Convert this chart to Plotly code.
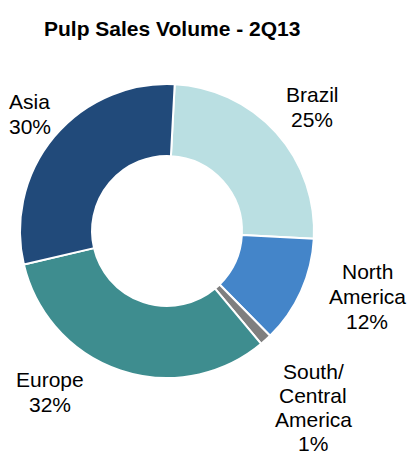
import plotly.graph_objects as go

# ---- data ----
regions = ["Brazil", "North America", "South/Central America", "Europe", "Asia"]
label_lines = [["Brazil"], ["North", "America"], ["South/", "Central", "America"], ["Europe"], ["Asia"]]
share_values = [25.0, 11.8, 1.3, 32.4, 29.5]
share_text = ["25%", "12%", "1%", "32%", "30%"]
colors = ["#badfe2", "#4485c9", "#7f7f7f", "#3e8d8f", "#214a7a"]

W, H = 410, 455
FONT = "Liberation Sans, Arial, sans-serif"

# ---- layout (pixels) ----
cx, cy, r = 167, 231, 147
label_pos = {  # x centre, y centre of first line (px from top), line gap
    "Brazil": (312, 94.5, 25),
    "North America": (367, 271, 25),
    "South/Central America": (313, 371, 24),
    "Europe": (50, 379, 25),
    "Asia": (30, 101, 25),
}

fig = go.Figure(go.Pie(
    labels=regions,
    values=share_values,
    sort=False,
    direction="clockwise",
    rotation=3,
    hole=0.51,
    marker=dict(colors=colors, line=dict(color="white", width=2)),
    textinfo="none",
    hoverinfo="label+percent",
    showlegend=False,
    domain=dict(x=[(cx - r) / W, (cx + r) / W],
                y=[(H - cy - r) / H, (H - cy + r) / H]),
))

annotations = [dict(
    text="<b>Pulp Sales Volume - 2Q13</b>", x=172 / W, y=1 - 28 / H,
    xref="paper", yref="paper", xanchor="center", yanchor="middle",
    showarrow=False, font=dict(family=FONT, size=21, color="#000000"),
)]
for name, lines, pct in zip(regions, label_lines, share_text):
    x0, y0, gap = label_pos[name]
    for i, t in enumerate(lines + [pct]):
        annotations.append(dict(
            text=t, x=x0 / W, y=1 - (y0 + i * gap) / H,
            xref="paper", yref="paper", xanchor="center", yanchor="middle",
            showarrow=False, font=dict(family=FONT, size=21, color="#000000"),
        ))

fig.update_layout(
    width=W, height=H,
    margin=dict(l=0, r=0, t=0, b=0),
    paper_bgcolor="white", plot_bgcolor="white",
    annotations=annotations,
)

fig.write_html("out.html")
